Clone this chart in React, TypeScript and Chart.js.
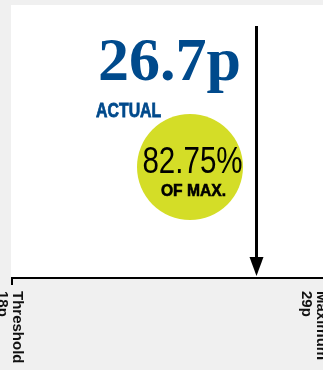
import React, { useEffect, useRef } from "react";
import { Chart, registerables } from "chart.js";

Chart.register(...registerables);

const AXIS_LABELS = ["Threshold", "Maximum"];
const AXIS_VALUES = [18, 29];
const ACTUAL_VALUE = [26.7];
const PERCENT_OF_MAX = [82.75];
const UNIT = "p";

const BLUE = "#004a8c";
const LIME = "#d4dd27";

export default function App() {
  const ref = useRef<HTMLCanvasElement>(null);

  useEffect(() => {
    const canvas = ref.current!;
    const gaugePlugin = {
      id: "gauge",
      beforeDraw(chart: any) {
        const { ctx, chartArea: a } = chart;
        ctx.save();
        ctx.fillStyle = "#f0f0f0";
        ctx.fillRect(0, 0, chart.width, chart.height);
        ctx.fillStyle = "#ffffff";
        ctx.fillRect(a.left - 1, a.top, chart.width - a.left + 1, a.bottom - a.top);
        ctx.restore();
      },
      afterDraw(chart: any) {
        const { ctx, chartArea: a, scales } = chart;
        const xs = scales.x;
        ctx.save();
        // axis line
        ctx.fillStyle = "#000";
        ctx.fillRect(a.left - 1, a.bottom, chart.width - a.left + 1, 2);
        // left tick
        const t0 = Math.round(xs.getPixelForValue(AXIS_VALUES[0]));
        ctx.fillRect(t0 - 1, a.bottom, 2, 8);

        // arrow at actual value
        const ax = Math.round(xs.getPixelForValue(ACTUAL_VALUE[0]));
        ctx.fillRect(ax - 2, a.top + 21, 3, a.bottom - 19 - (a.top + 21));
        ctx.beginPath();
        ctx.moveTo(ax - 7.5, a.bottom - 20);
        ctx.lineTo(ax + 6.5, a.bottom - 20);
        ctx.lineTo(ax - 0.5, a.bottom - 1);
        ctx.closePath();
        ctx.fill();

        // big value
        ctx.fillStyle = BLUE;
        ctx.font = "bold 62px 'Liberation Serif'";
        ctx.textAlign = "right";
        ctx.textBaseline = "alphabetic";
        ctx.fillText(`${ACTUAL_VALUE[0]}${UNIT}`, ax - 16, 80);

        // ACTUAL
        ctx.save();
        ctx.translate(ax - 161, 117);
        ctx.scale(0.756, 1);
        ctx.font = "bold 21px 'Liberation Sans'";
        ctx.textAlign = "left";
        ctx.strokeStyle = BLUE;
        ctx.lineWidth = 0.8;
        ctx.fillText("ACTUAL", 0, 0);
        ctx.strokeText("ACTUAL", 0, 0);
        ctx.restore();

        // circle
        ctx.fillStyle = LIME;
        ctx.beginPath();
        ctx.arc(ax - 67, 167, 53, 0, Math.PI * 2);
        ctx.fill();

        ctx.fillStyle = "#000";
        ctx.save();
        ctx.translate(ax - 64.5, 173);
        ctx.scale(0.82, 1);
        ctx.font = "36px 'Liberation Sans'";
        ctx.textAlign = "center";
        ctx.fillText(`${PERCENT_OF_MAX[0]}%`, 0, 0);
        ctx.restore();

        ctx.save();
        ctx.translate(ax - 63.5, 196);
        ctx.scale(0.92, 1);
        ctx.font = "bold 17px 'Liberation Sans'";
        ctx.textAlign = "center";
        ctx.strokeStyle = "#000";
        ctx.lineWidth = 0.6;
        ctx.fillText("OF MAX.", 0, 0);
        ctx.strokeText("OF MAX.", 0, 0);
        ctx.restore();

        // axis labels (rotated)
        ctx.fillStyle = "#111";
        ctx.font = "bold 15px 'Liberation Sans'";
        ctx.textAlign = "left";
        AXIS_VALUES.forEach((v, i) => {
          const px = xs.getPixelForValue(v) + (i === AXIS_VALUES.length - 1 ? -6 : 0);
          ctx.save();
          ctx.translate(px, a.bottom + 14);
          ctx.rotate(Math.PI / 2);
          ctx.fillText(AXIS_LABELS[i], 0, -1);
          ctx.fillText(`${v}${UNIT}`, 0, 14);
          ctx.restore();
        });
        ctx.restore();
      },
    };

    const chart = new Chart(canvas, {
      type: "scatter",
      data: {
        datasets: [
          {
            data: ACTUAL_VALUE.map((v) => ({ x: v, y: 0 })),
            pointRadius: 0,
          },
        ],
      },
      options: {
        animation: false,
        responsive: false,
        maintainAspectRatio: false,
        devicePixelRatio: 1,
        layout: { padding: { left: 12, right: 1, top: 5, bottom: 93 } },
        plugins: { legend: { display: false }, tooltip: { enabled: false } },
        scales: {
          x: { type: "linear", min: AXIS_VALUES[0], max: AXIS_VALUES[1], display: false },
          y: { min: 0, max: 1, display: false },
        },
      },
      plugins: [gaugePlugin],
    });
    return () => chart.destroy();
  }, []);

  return (
    <canvas
      ref={ref}
      width={323}
      height={370}
      style={{ position: "fixed", left: 0, top: 0, width: 323, height: 370 }}
    />
  );
}
